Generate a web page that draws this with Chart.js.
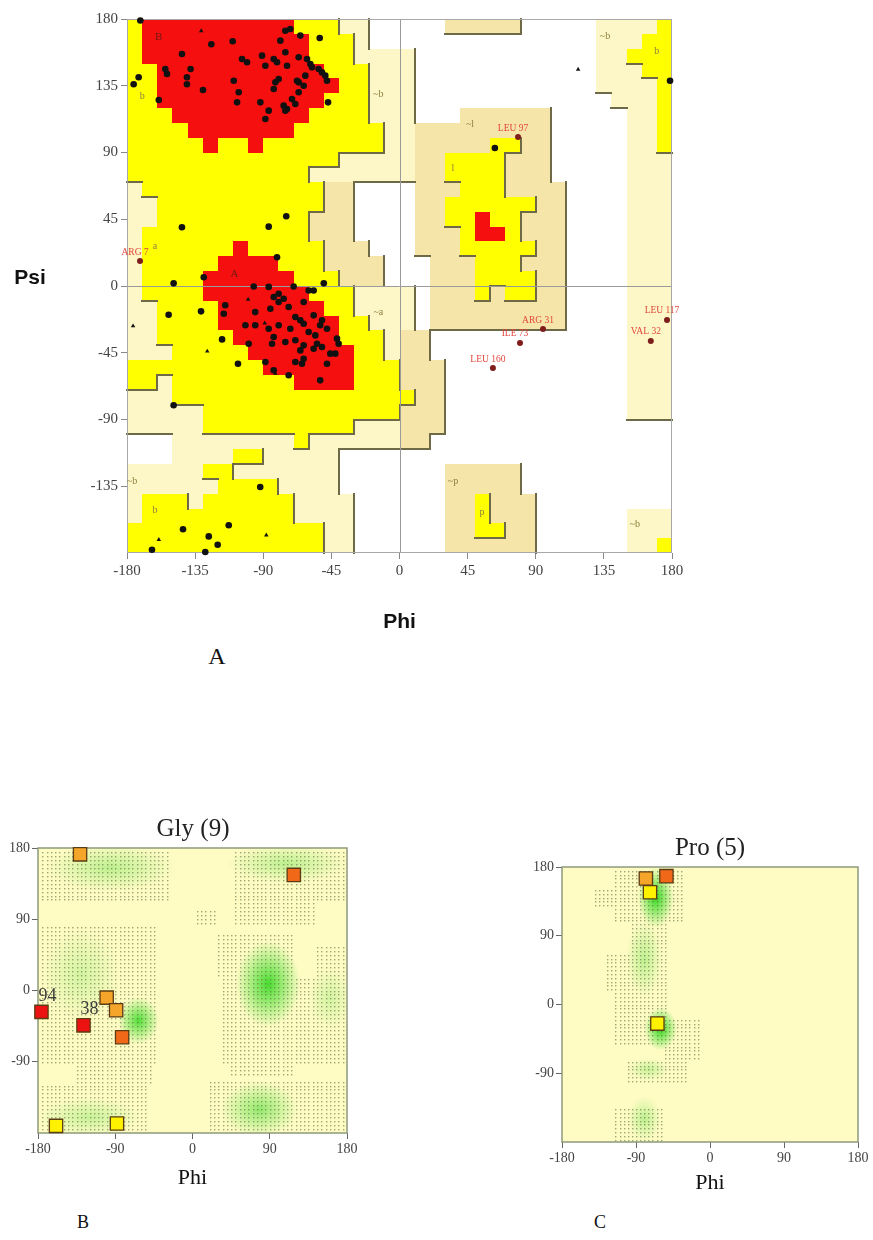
<!DOCTYPE html>
<html>
<head>
<meta charset="utf-8">
<script src="https://cdn.jsdelivr.net/npm/chart.js@4.4.1/dist/chart.umd.min.js"></script>
<style>
  html, body { margin: 0; padding: 0; background: #fff; }
  body { position: relative; width: 873px; height: 1240px; overflow: hidden; }
  canvas { position: absolute; }
  .txt { position: absolute; text-align: center; color: #111; white-space: nowrap; }
  .serif { font-family: 'Liberation Serif', 'DejaVu Serif', serif; }
  .sans { font-family: 'Liberation Sans', Arial, sans-serif; font-weight: bold; }
</style>
</head>
<body>
<canvas id="ramaAll" width="873" height="640" style="left:0;top:0"></canvas>
<canvas id="ramaGly" width="386" height="385" style="left:0;top:808px"></canvas>
<canvas id="ramaPro" width="380" height="375" style="left:520px;top:827px"></canvas>

<div class="txt sans" style="left:0;top:264px;width:60px;font-size:21px;line-height:26px">Psi</div>
<div class="txt serif" style="left:187px;top:641px;width:60px;font-size:24px;line-height:30px">A</div>
<div class="txt serif" style="left:53px;top:1210px;width:60px;font-size:18px;line-height:24px">B</div>
<div class="txt serif" style="left:570px;top:1210px;width:60px;font-size:18px;line-height:24px">C</div>

<script>
// ---------- Ramachandran regions, 10 degree cells ----------
// rows run from psi 180 (top) down to -180, columns from phi -180 to 180
// R core, Y allowed, b / c generously allowed, . disallowed
const REGION_ROWS = [
  "YRRRRRRRRRRYYYcc.....bbbbb.....ccccY",
  "YRRRRRRRRRRRYYYc...............cccYY",
  "YRRRRRRRRRRRYYYcccc............ccYYY",
  "YYRRRRRRRRRRRYYYccc............cccYY",
  "YYRRRRRRRRRRRRYYccc............ccccY",
  "YYRRRRRRRRRRRYYYccc.............cccY",
  "YYYRRRRRRRRRYYYYccc...bbbbbb.....ccY",
  "YYYYRRRRRRRYYYYYYccbbbbbbbbb.....ccY",
  "YYYYYRYYRYYYYYYYYccbbbbbYYbb.....ccY",
  "YYYYYYYYYYYYYYcccccbbYYYYbbb.....ccc",
  "YYYYYYYYYYYYcccccccbbYYYYbbb.....ccc",
  "cYYYYYYYYYYYYbb....bbbYYYbbbb....ccc",
  "ccYYYYYYYYYYYbb....bbYYYYYYbb....ccc",
  "ccYYYYYYYYYYbbb....bbYYRYYbbb....ccc",
  "cYYYYYYYYYYYbbb....bbbYRRYbbb....ccc",
  "cYYYYYYRYYYYYbbb...bbbYYYYYbb....ccc",
  "cYYYYYRRRRYYYbbbb...bbbYYYbbb....ccc",
  "cYYYYRRRRRRYYYbbb...bbbYYYYbb....ccc",
  "cYYYYRRRRRRRYYYcccc.bbbYbYYbb....ccc",
  "ccYYYYRRRRRRRYYcccc.bbbbbbbbb....ccc",
  "ccYYYYRRRRRRRRYYccc.bbbbbbbbb....ccc",
  "ccYYYYYRRRRRRRYYYcbb.............ccc",
  "cccYYYYYRRRRRRRYYcbb.............ccc",
  "YYYYYYYYYRRRRRRYYYbbb............ccc",
  "YYcYYYYYYYYRRRRYYYbbb............ccc",
  "cccYYYYYYYYYYYYYYYYbb............ccc",
  "cccccYYYYYYYYYYYYYbbb............ccc",
  "cccccYYYYYYYYYYcccbbb...............",
  "...ccccccccYccccccbb................",
  "...ccccYYccccc......................",
  "cccccYYccccccc.......bbbbb..........",
  "ccccccYYYYcccc.......bbbbb..........",
  "cYYYcYYYYYYcccc......bbYbbb.........",
  "cYYYYYYYYYYcccc......bbYbbb......ccc",
  "YYYYYYYYYYYYYcc......bbYYbb......ccc",
  "YYYYYYYYYYYYYcc......bbbbbb......ccY"
];

// region letters printed inside the map
const REGION_TAGS = ['B', 'b', '~b', 'A', 'a', '~a', '~b', 'b', '~l', 'l', '~b', 'b', '~p', 'p', '~b'];
const REGION_TAG_PHI = [-159, -170, -14, -109, -161.5, -14, -176.7, -161.5, 46.6, 35.3, 135.7, 170, 35.3, 54.5, 155.5];
const REGION_TAG_PSI = [168, 128, 129.4, 8, 27, -17.5, -132, -151, 109, 79, 168.5, 158.4, -132, -152.4, -161];

// ---------- residues (non-Gly, non-Pro) ----------
const RES_PHI = [
  -171.2, -124.3, -110.2, -143.7, -154.7, -153.6, -138, -140.4, -140.4, -172.3,
  -175.6, -159, -129.8, -109.5, -106.2, -107.3, -104, -100.7, -90.8, -88.6,
  -83.1, -80.9, -75.4, -78.7, -75.4, -72.1, -65.5, -52.7, -74.3, -66.6,
  -61.1, -58.9, -57.8, -53.4, -51.2, -49, -47.9, -62.2, -67.7, -66.6,
  -82, -79.8, -83.1, -91.9, -86.4, -88.6, -76.5, -74.3, -75.4, -71,
  -68.8, -66.6, -63.3, -47.2,
  -74.8, -86.4, -143.7, -80.9, -129.3, -149.2, -50,
  -152.5, -131.1, -117.2, -106.7, -149.2, -92, -112.8, -143, -126, -120.1, -163.5, -128.3,
  -96.3, -86.4, -69.9, -79.8, -83.1, -76.5, -115.1, -116.1, -95.3, -85.3,
  -79.8, -73.2, -63.3, -60, -68.8, -65.5, -63.3, -56.7, -51.2, -47.9,
  -41.3, -40.2, -45.7, -51.2, -56.7, -54.5, -63.3, -65.5, -63.3, -68.8,
  -75.4, -83.1, -84.2, -86.4, -79.8, -72.1, -99.6, -101.8, -95.3, -88.6,
  -83.1, -73.2, -52.4, -47.9, -42.4, -60, -55.6, -52.4, -68.8, -64.4, -56.7,
  63, 178.7
];
const RES_PSI = [
  179, 163, 165, 156.4, 146.3, 143, 146.3, 140.7, 136, 140.7,
  136, 125.4, 132.1, 138.4, 130.6, 123.8, 153, 150.8, 155.3, 148.5,
  153, 150.8, 157.6, 165.4, 172.1, 173.3, 168.8, 167.2, 148.5, 154.2,
  153, 149.7, 147.4, 146.3, 144, 141.8, 138.4, 141.8, 138.4, 137.3,
  137.3, 139.5, 132.8, 123.8, 118.2, 112.6, 121.6, 119.3, 118.2, 126,
  122.7, 130.6, 135, 123.8,
  47, 40, 39.6, 19.3, 5.9, 1.8, 1.8,
  -19.4, -17.1, -36, -52.4, -80.4, -135.5, -161.3, -164, -168.8, -174.4, -177.8, -179.3,
  -0.3, -0.6, -0.3, -5.2, -7.4, -8.6, -13, -18.7, -17.6, -15.3,
  -10.8, -14.2, -10.8, -3, -20.9, -23.1, -25.4, -19.8, -23.1, -28.8,
  -35.5, -38.9, -45.6, -41.1, -42.3, -38.9, -40, -43.4, -49, -36.6,
  -37.8, -34.4, -38.9, -28.8, -26.5, -28.8, -38.9, -26.5, -26.5, -51.2,
  -56.8, -60.2, -63.6, -52.4, -45.6, -31, -33.3, -26.5, -51.2, -52.4, -3,
  93, 138.4
];

// residues in disallowed / generous zones, labelled on the map
const OUT_NAMES = ['LEU 97', 'ARG 7', 'ARG 31', 'ILE 73', 'LEU 160', 'LEU 117', 'VAL 32'];
const OUT_PHI = [78.3, -171.4, 94.8, 79.6, 61.7, 176.7, 166];
const OUT_PSI = [100.4, 16.8, -29, -38.4, -55.3, -22.9, -37];

// ---------- glycine residues ----------
const GLY_PHI = [-131, 118, -100, -89, -176, -127, -82, -159, -88];
const GLY_PSI = [172, 146, -9, -25, -27, -44, -59, -171, -168];
const GLY_CLASS = ['gen', 'far', 'gen', 'gen', 'out', 'out', 'far', 'fav', 'fav'];
const GLY_TAG = ['', '', '', '', '94', '38', '', '', ''];

// ---------- proline residues ----------
const PRO_PHI = [-78, -53, -73, -64];
const PRO_PSI = [165, 168, 147, -25];
const PRO_CLASS = ['gen', 'far', 'fav', 'fav'];

// density patches of the reference distributions: phi, psi, half-width phi, half-width psi, strength
const GLY_DENSITY_PHI = [88, -63, -95, 110, 78, -120, -130, 160];
const GLY_DENSITY_PSI = [8, -38, 155, 160, -150, -160, 20, -10];
const GLY_DENSITY_RPHI = [38, 24, 75, 70, 45, 60, 45, 25];
const GLY_DENSITY_RPSI = [55, 30, 30, 25, 35, 25, 60, 40];
const GLY_DENSITY_LEVEL = [0.85, 0.8, 0.3, 0.3, 0.5, 0.25, 0.2, 0.2];

const PRO_DENSITY_PHI = [-66, -60, -80, -80, -75];
const PRO_DENSITY_PSI = [140, -32, 60, -150, -85];
const PRO_DENSITY_RPHI = [22, 20, 22, 20, 25];
const PRO_DENSITY_RPSI = [40, 28, 50, 30, 15];
const PRO_DENSITY_LEVEL = [0.95, 0.95, 0.3, 0.3, 0.25];

// lattice-marked zones: phi from, phi to, psi from, psi to
const GLY_ZONE_PHI0 = [-175, 50, 50, 5, -175, -135, 30, 35, 145, 45, 20, -175];
const GLY_ZONE_PHI1 = [-30, 175, 140, 25, -45, -50, 115, 175, 175, 115, 175, -55];
const GLY_ZONE_PSI0 = [115, 115, 85, 85, -90, -115, 20, -90, 20, -105, -175, -175];
const GLY_ZONE_PSI1 = [175, 175, 110, 100, 80, -90, 70, 15, 55, -90, -115, -120];

const PRO_ZONE_PHI0 = [-115, -140, -95, -125, -115, -55, -100, -115];
const PRO_ZONE_PHI1 = [-35, -120, -55, -95, -55, -15, -30, -60];
const PRO_ZONE_PSI0 = [110, 130, 20, 20, -50, -70, -100, -177];
const PRO_ZONE_PSI1 = [175, 150, 105, 65, 15, -20, -75, -135];

// ---------- styling ----------
const SERIF = "'Liberation Serif', 'DejaVu Serif', serif";
const SANS = "'Liberation Sans', Arial, sans-serif";
const ZONE_FILL = { R: '#f50f0f', Y: '#ffff00', b: '#f5e5a8', c: '#fdf6c6' };
const ZONE_RANK = { '.': 0, c: 1, b: 1, Y: 2, R: 2 };
const SQUARE_FILL = { fav: '#fff200', gen: '#f4a52a', far: '#f06818', out: '#ec1212' };

function pts(xs, ys) { return xs.map((v, i) => ({ x: v, y: ys[i] })); }

function axis(opts) {
  return {
    type: 'linear', min: -180, max: 180,
    ticks: {
      stepSize: opts.step, autoSkip: false, maxRotation: 0,
      font: { family: SERIF, size: opts.tickSize }, color: opts.tickColor, padding: opts.pad,
      callback: opts.hideLow ? (v => (v === -180 ? '' : String(v))) : (v => String(v))
    },
    grid: {
      drawOnChartArea: false, drawTicks: true, tickLength: opts.tickLen,
      color: opts.hideLow ? (c => (c.tick && c.tick.value === -180 ? 'rgba(0,0,0,0)' : opts.tickMark)) : opts.tickMark
    },
    border: { display: false },
    title: opts.title ? {
      display: true, text: opts.title, color: '#111',
      font: opts.titleFont, padding: { top: 0, bottom: opts.titlePad }
    } : { display: false },
    afterFit: opts.fit
  };
}

// empty right-hand gutter, keeps the panel title centred on the canvas
function gutter(w) {
  return {
    type: 'linear', position: 'right', min: -180, max: 180, display: true,
    ticks: { display: false }, grid: { display: false, drawTicks: false }, border: { display: false },
    afterFit: s => { s.width = w; }
  };
}

// ---------- drawing helpers bound to the chart scales ----------
const mapPainter = {
  id: 'mapPainter',
  beforeDatasetsDraw(chart) {
    const { ctx, chartArea: a, scales: { x, y } } = chart;
    const px = v => Math.round(x.getPixelForValue(v));
    const py = v => Math.round(y.getPixelForValue(v));
    ctx.save();
    REGION_ROWS.forEach((row, j) => {
      for (let i = 0; i < row.length; i++) {
        const k = row[i];
        if (k === '.') continue;
        const x0 = px(-180 + 10 * i), x1 = px(-170 + 10 * i);
        const y0 = py(180 - 10 * j), y1 = py(170 - 10 * j);
        ctx.fillStyle = ZONE_FILL[k];
        ctx.fillRect(x0, y0, x1 - x0, y1 - y0);
      }
    });
    // darker edge along the lower and right border of each zone
    ctx.strokeStyle = '#6e6a48';
    ctx.lineWidth = 2;
    ctx.lineCap = 'square';
    ctx.beginPath();
    REGION_ROWS.forEach((row, j) => {
      for (let i = 0; i < row.length; i++) {
        const e = ZONE_RANK[row[i]];
        if (!e) continue;
        const x0 = px(-180 + 10 * i), x1 = px(-170 + 10 * i);
        const y0 = py(180 - 10 * j), y1 = py(170 - 10 * j);
        if (i < row.length - 1 && e > ZONE_RANK[row[i + 1]]) { ctx.moveTo(x1, y0); ctx.lineTo(x1, y1); }
        if (j < REGION_ROWS.length - 1 && e > ZONE_RANK[REGION_ROWS[j + 1][i]]) { ctx.moveTo(x0, y1); ctx.lineTo(x1, y1); }
      }
    });
    ctx.stroke();
    // zero lines and frame
    ctx.strokeStyle = '#9a9a9a';
    ctx.lineWidth = 1;
    ctx.lineCap = 'butt';
    ctx.beginPath();
    ctx.moveTo(px(0) + 0.5, a.top); ctx.lineTo(px(0) + 0.5, a.bottom);
    ctx.moveTo(a.left, py(0) + 0.5); ctx.lineTo(a.right, py(0) + 0.5);
    ctx.stroke();
    ctx.strokeStyle = '#a8a8a8';
    ctx.strokeRect(a.left + 0.5, a.top + 0.5, a.right - a.left - 1, a.bottom - a.top - 1);
    // region letters
    ctx.textAlign = 'center';
    ctx.textBaseline = 'middle';
    REGION_TAGS.forEach((t, i) => {
      const onCore = t === 'A' || t === 'B';
      ctx.font = (onCore ? 11 : 10) + 'px ' + SERIF;
      ctx.fillStyle = onCore ? '#6a1c14' : '#8f8040';
      ctx.fillText(t, x.getPixelForValue(REGION_TAG_PHI[i]), y.getPixelForValue(REGION_TAG_PSI[i]));
    });
    ctx.restore();
  },
  afterDatasetsDraw(chart) {
    const { ctx, scales: { x, y } } = chart;
    ctx.save();
    ctx.font = '9.5px ' + SERIF;
    ctx.fillStyle = '#e2463c';
    ctx.textAlign = 'center';
    ctx.textBaseline = 'middle';
    OUT_NAMES.forEach((n, i) => {
      ctx.fillText(n, x.getPixelForValue(OUT_PHI[i]) - 5, y.getPixelForValue(OUT_PSI[i]) - 9);
    });
    ctx.restore();
  }
};

function densityPainter(id, dens, zones) {
  return {
    id,
    beforeDatasetsDraw(chart) {
      const { ctx, chartArea: a, scales: { x, y } } = chart;
      ctx.save();
      ctx.fillStyle = '#fefbc3';
      ctx.fillRect(a.left, a.top, a.right - a.left, a.bottom - a.top);
      ctx.beginPath();
      ctx.rect(a.left, a.top, a.right - a.left, a.bottom - a.top);
      ctx.clip();
      dens.phi.forEach((p, i) => {
        const cx = x.getPixelForValue(p), cy = y.getPixelForValue(dens.psi[i]);
        const rx = Math.abs(x.getPixelForValue(p + dens.rphi[i]) - cx);
        const ry = Math.abs(y.getPixelForValue(dens.psi[i] + dens.rpsi[i]) - cy);
        const s = dens.level[i];
        ctx.save();
        ctx.translate(cx, cy);
        ctx.scale(rx, ry);
        const g = ctx.createRadialGradient(0, 0, 0, 0, 0, 1);
        g.addColorStop(0, 'rgba(38,214,20,' + s + ')');
        g.addColorStop(0.45, 'rgba(60,220,40,' + (s * 0.6) + ')');
        g.addColorStop(1, 'rgba(80,225,60,0)');
        ctx.fillStyle = g;
        ctx.beginPath();
        ctx.arc(0, 0, 1, 0, Math.PI * 2);
        ctx.fill();
        ctx.restore();
      });
      // lattice marks every 5 degrees inside the listed zones
      const seen = new Set();
      ctx.fillStyle = 'rgba(92,112,66,0.6)';
      zones.phi0.forEach((p0, k) => {
        for (let p = p0; p <= zones.phi1[k]; p += 5) {
          for (let s = zones.psi0[k]; s <= zones.psi1[k]; s += 5) {
            const key = p + ':' + s;
            if (seen.has(key)) continue;
            seen.add(key);
            ctx.fillRect(Math.round(x.getPixelForValue(p)), Math.round(y.getPixelForValue(s)), 1.4, 1.4);
          }
        }
      });
      ctx.restore();
      ctx.save();
      ctx.strokeStyle = '#8d9a7c';
      ctx.lineWidth = 1.5;
      ctx.strokeRect(a.left, a.top, a.right - a.left, a.bottom - a.top);
      ctx.restore();
    }
  };
}

const glyTags = {
  id: 'glyTags',
  afterDatasetsDraw(chart) {
    const { ctx, scales: { x, y } } = chart;
    ctx.save();
    ctx.font = '18px ' + SERIF;
    ctx.fillStyle = '#3c3c3c';
    ctx.textAlign = 'center';
    ctx.textBaseline = 'middle';
    GLY_TAG.forEach((t, i) => {
      if (!t) return;
      ctx.fillText(t, x.getPixelForValue(GLY_PHI[i]) + 6, y.getPixelForValue(GLY_PSI[i]) - 16);
    });
    ctx.restore();
  }
};

const common = { responsive: false, animation: false, events: [] };

// ---------- panel A: all residues ----------
new Chart(document.getElementById('ramaAll'), {
  type: 'scatter',
  data: {
    datasets: [
      { label: 'Residues', data: pts(RES_PHI, RES_PSI), pointRadius: 3.3, backgroundColor: '#111', borderWidth: 0, clip: false },
      { label: 'Glycine', data: pts(GLY_PHI, GLY_PSI), pointStyle: 'triangle', pointRadius: 2.6, backgroundColor: '#111', borderWidth: 0, clip: false },
      { label: 'Outliers', data: pts(OUT_PHI, OUT_PSI), pointRadius: 3, backgroundColor: '#7e1e1c', borderWidth: 0, clip: false }
    ]
  },
  options: Object.assign({}, common, {
    layout: { padding: { top: 19, right: 201, left: 0, bottom: 0 } },
    plugins: { legend: { display: false }, tooltip: { enabled: false } },
    scales: {
      x: axis({ step: 45, tickSize: 15, tickColor: '#444', pad: 3, tickLen: 6, tickMark: '#888',
        title: 'Phi', titleFont: { family: SANS, size: 21, weight: 'bold' }, titlePad: 5,
        fit: s => { s.height = 87; } }),
      y: axis({ step: 45, tickSize: 15, tickColor: '#444', pad: 3, tickLen: 6, tickMark: '#888', hideLow: true,
        fit: s => { s.width = 127; } })
    }
  }),
  plugins: [mapPainter]
});

// ---------- panel B: glycine ----------
new Chart(document.getElementById('ramaGly'), {
  type: 'scatter',
  data: {
    datasets: [{
      label: 'Gly', data: pts(GLY_PHI, GLY_PSI), pointStyle: 'rect', pointRadius: 9.4,
      backgroundColor: GLY_CLASS.map(c => SQUARE_FILL[c]), borderColor: '#5b3c14', borderWidth: 1.3, clip: false
    }]
  },
  options: Object.assign({}, common, {
    layout: { padding: 0 },
    plugins: {
      legend: { display: false }, tooltip: { enabled: false },
      title: { display: true, text: 'Gly (9)', color: '#222', font: { family: SERIF, size: 25, weight: 'normal' }, padding: { top: 6, bottom: 4 } }
    },
    scales: {
      x: axis({ step: 90, tickSize: 14, tickColor: '#444', pad: 2, tickLen: 6, tickMark: '#666',
        title: 'Phi', titleFont: { family: SERIF, size: 22, weight: 'normal' }, titlePad: 2,
        fit: s => { s.height = 60; } }),
      y: axis({ step: 90, tickSize: 14, tickColor: '#444', pad: 2, tickLen: 6, tickMark: '#666', hideLow: true,
        fit: s => { s.width = 38; } }),
      yGap: gutter(39)
    }
  }),
  plugins: [densityPainter('glyDensity',
    { phi: GLY_DENSITY_PHI, psi: GLY_DENSITY_PSI, rphi: GLY_DENSITY_RPHI, rpsi: GLY_DENSITY_RPSI, level: GLY_DENSITY_LEVEL },
    { phi0: GLY_ZONE_PHI0, phi1: GLY_ZONE_PHI1, psi0: GLY_ZONE_PSI0, psi1: GLY_ZONE_PSI1 }), glyTags]
});

// ---------- panel C: proline ----------
new Chart(document.getElementById('ramaPro'), {
  type: 'scatter',
  data: {
    datasets: [{
      label: 'Pro', data: pts(PRO_PHI, PRO_PSI), pointStyle: 'rect', pointRadius: 9.4,
      backgroundColor: PRO_CLASS.map(c => SQUARE_FILL[c]), borderColor: '#5b3c14', borderWidth: 1.3, clip: false
    }]
  },
  options: Object.assign({}, common, {
    layout: { padding: 0 },
    plugins: {
      legend: { display: false }, tooltip: { enabled: false },
      title: { display: true, text: 'Pro (5)', color: '#222', font: { family: SERIF, size: 25, weight: 'normal' }, padding: { top: 6, bottom: 4 } }
    },
    scales: {
      x: axis({ step: 90, tickSize: 14, tickColor: '#444', pad: 2, tickLen: 6, tickMark: '#666',
        title: 'Phi', titleFont: { family: SERIF, size: 22, weight: 'normal' }, titlePad: 6,
        fit: s => { s.height = 60; } }),
      y: axis({ step: 90, tickSize: 14, tickColor: '#444', pad: 2, tickLen: 6, tickMark: '#666', hideLow: true,
        fit: s => { s.width = 42; } }),
      yGap: gutter(42)
    }
  }),
  plugins: [densityPainter('proDensity',
    { phi: PRO_DENSITY_PHI, psi: PRO_DENSITY_PSI, rphi: PRO_DENSITY_RPHI, rpsi: PRO_DENSITY_RPSI, level: PRO_DENSITY_LEVEL },
    { phi0: PRO_ZONE_PHI0, phi1: PRO_ZONE_PHI1, psi0: PRO_ZONE_PSI0, psi1: PRO_ZONE_PSI1 })]
});
</script>
</body>
</html>
